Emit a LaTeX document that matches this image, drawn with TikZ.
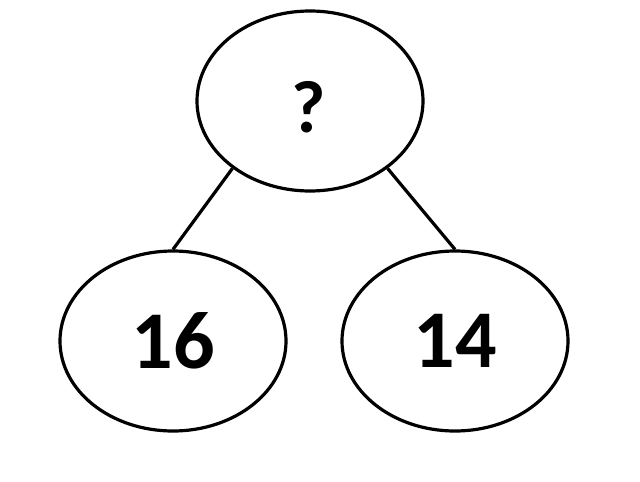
\documentclass[tikz,border=0pt]{standalone}
\usepackage{fontspec}
\setmainfont{Carlito}
\usetikzlibrary{shapes.geometric}
\begin{document}
\begin{tikzpicture}[x=1pt,y=-1pt,
  bubble/.style={ellipse,draw=black,line width=3.2pt,minimum width=226pt,minimum height=180pt,inner sep=0pt,font=\fontsize{82}{82}\selectfont\bfseries},
  link/.style={draw=black,line width=3.2pt}]
\useasboundingbox (0,0) rectangle (640,482);
\node[bubble] (top) at (310,101) {};
\node[font=\fontsize{74}{74}\selectfont\bfseries] (q) at (309,107) {?};
\node[bubble] (left) at (173,341) {16};
\node[bubble] (right) at (455,341) {14};
\draw[link] (top.-139) -- (left.90);
\draw[link] (top.-41) -- (right.90);
\end{tikzpicture}
\end{document}
